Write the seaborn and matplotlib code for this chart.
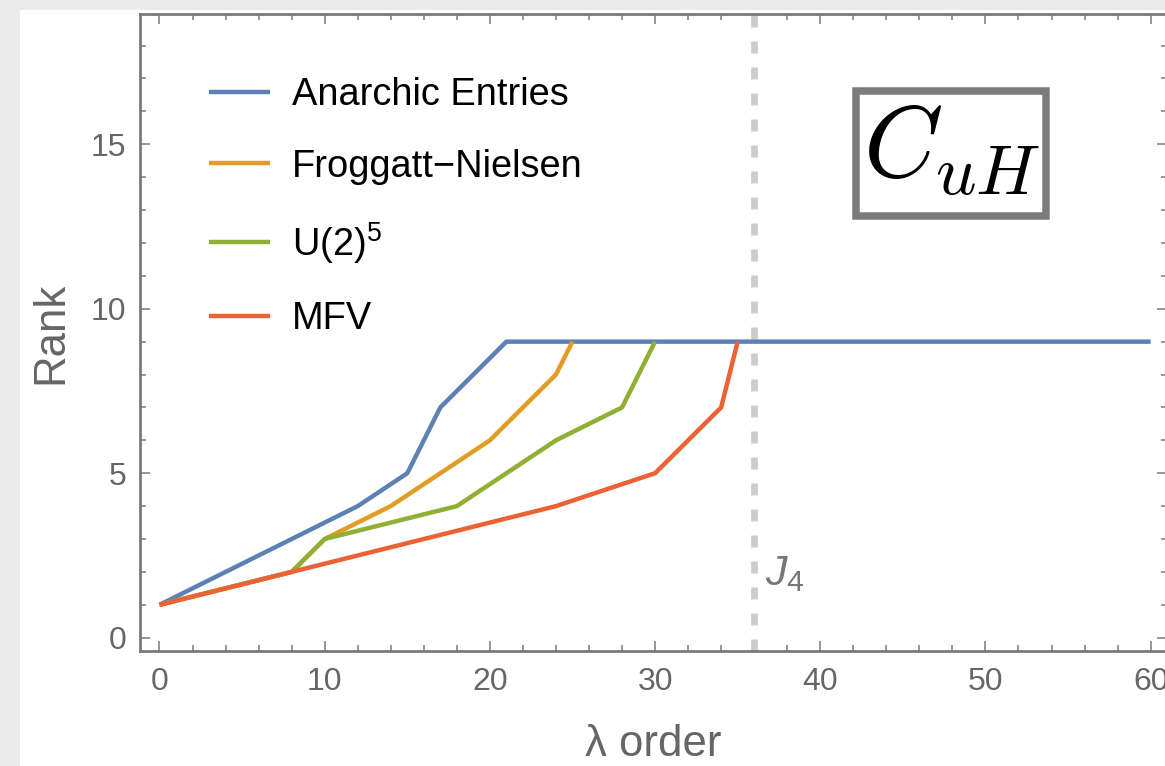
import matplotlib
matplotlib.use('Agg')
import matplotlib.pyplot as plt
import seaborn as sns
import pandas as pd
from matplotlib.patches import Rectangle
from matplotlib.ticker import MultipleLocator

sns.set_theme(style='ticks')
plt.rcParams['font.family'] = ['Liberation Sans', 'DejaVu Sans']
plt.rcParams['mathtext.fontset'] = 'custom'
plt.rcParams['mathtext.rm'] = 'Liberation Sans'
plt.rcParams['mathtext.it'] = 'Liberation Sans:italic'
plt.rcParams['mathtext.bf'] = 'Liberation Sans:bold'

# data
series_names = ['Anarchic Entries', 'Froggatt\u2212Nielsen', 'U(2)$^5$', 'MFV']
series_colors = ['#5e81b5', '#e19c24', '#8fb032', '#eb6235']

anarchic_x = [0, 12, 15, 17, 21, 60]
anarchic_y = [1, 4, 5, 7, 9, 9]
fn_x = [0, 8, 10, 14, 20, 24, 25]
fn_y = [1, 2, 3, 4, 6, 8, 9]
u2_x = [0, 8, 10, 18, 24, 28, 30]
u2_y = [1, 2, 3, 4, 6, 7, 9]
mfv_x = [0, 8, 24, 30, 34, 35]
mfv_y = [1, 2, 4, 5, 7, 9]

j4_order = 36
box_label = r'$C_{uH}$'

all_x = [anarchic_x, fn_x, u2_x, mfv_x]
all_y = [anarchic_y, fn_y, u2_y, mfv_y]

W, H = 1165, 766
fig = plt.figure(figsize=(W / 100, H / 100), dpi=100, facecolor='#ebebeb')
fig.patches.append(Rectangle((20 / W, 0), 1, (H - 10) / H, transform=fig.transFigure,
                             facecolor='white', edgecolor='none', zorder=-10))

ax = fig.add_axes([140 / W, (H - 650.7) / H, 1027 / W, 636.7 / H])
ax.set_facecolor('white')

for name, col, xs, ys in zip(series_names, series_colors, all_x, all_y):
    df = pd.DataFrame({'order': xs, 'rank': ys})
    sns.lineplot(data=df, x='order', y='rank', color=col, linewidth=3.2, sort=False,
                 estimator=None, label=name, ax=ax, solid_capstyle='butt')

ax.axvline(j4_order, color='#cccccc', lw=4.8, linestyle=(0, (1.8, 2.1)), zorder=1)
ax.text(j4_order + 0.65, 1.6, r'$J_4$', fontsize=31, color='#777777',
        ha='left', va='baseline')

ax.set_xlim(-1.18, 60.99)
ax.set_ylim(-0.395, 18.96)
ax.xaxis.set_major_locator(MultipleLocator(10))
ax.xaxis.set_minor_locator(MultipleLocator(2))
ax.yaxis.set_major_locator(MultipleLocator(5))
ax.yaxis.set_minor_locator(MultipleLocator(1))

for s in ax.spines.values():
    s.set_visible(True)
    s.set_color('#7a7a7a')
    s.set_linewidth(2)

ax.tick_params(which='both', direction='in', top=True, right=True,
               color='#7a7a7a', width=1.1, labelcolor='#666666', labelsize=23)
ax.tick_params(which='major', length=7.2)
ax.tick_params(which='minor', length=4.3)
ax.tick_params(axis='x', pad=12)
ax.tick_params(axis='y', pad=10)

ax.set_xlabel('\u03bb order', fontsize=31.5, color='#666666')
ax.set_ylabel('Rank', fontsize=31.5, color='#666666')
ax.xaxis.set_label_coords(0.5, -0.115)
ax.yaxis.set_label_coords(-0.067, 0.5)

leg = ax.legend(loc='upper left', bbox_to_anchor=(0.0672, 0.9007), frameon=False,
                fontsize=27.4, handlelength=1.6, handletextpad=0.58, labelspacing=0.93,
                borderaxespad=0, borderpad=0)
for t in leg.get_texts():
    t.set_color('black')

# boxed label
ax.add_patch(Rectangle((0.6969, 0.6824), 0.1855, 0.1971, transform=ax.transAxes,
                       facecolor='white', edgecolor='#7b7b7b', lw=5.4,
                       joinstyle='miter', zorder=5))
ax.text(0.7906, 0.7424, box_label, transform=ax.transAxes, ha='center', va='baseline',
        fontsize=73, math_fontfamily='cm', color='black', zorder=6)

fig.savefig('out.png', dpi=100, facecolor=fig.get_facecolor())
